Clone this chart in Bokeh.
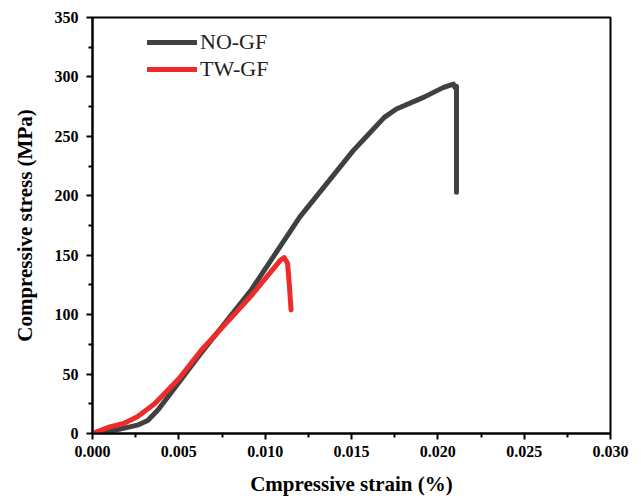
from bokeh.plotting import figure
from bokeh.models import Range1d, FixedTicker, PrintfTickFormatter, Legend, LegendItem
from bokeh.embed import file_html
from bokeh.resources import INLINE

# Data
no_gf_strain = [0.0003, 0.0014, 0.0026, 0.0032, 0.0038, 0.0050, 0.0062, 0.0092, 0.0120,
                0.0151, 0.0160, 0.0169, 0.0176, 0.0192, 0.0203, 0.0209, 0.0210, 0.02108, 0.02108]
no_gf_stress = [0, 3, 7, 11, 20, 43, 66, 121, 182,
                238, 252, 266, 273, 283, 291, 294, 291, 292, 203]

tw_gf_strain = [0.0, 0.0010, 0.0018, 0.0026, 0.0036, 0.0050, 0.0063, 0.0082, 0.0092,
                0.0101, 0.0109, 0.0111, 0.0113, 0.0114, 0.0115]
tw_gf_stress = [0, 5.6, 8.4, 14, 25, 46, 70, 100, 116,
                132, 146, 148, 143, 125, 104]

x_ticks = [0.000, 0.005, 0.010, 0.015, 0.020, 0.025, 0.030]
y_ticks = [0, 50, 100, 150, 200, 250, 300, 350]

series_names = ["NO-GF", "TW-GF"]
series_colors = ["#404040", "#ee2a2a"]

FONT = "Liberation Serif"

p = figure(width=641, height=496, output_backend="svg", toolbar_location=None,
           x_range=Range1d(0, 0.030), y_range=Range1d(0, 350),
           min_border_left=92, min_border_right=31, min_border_top=17, min_border_bottom=63)
p.frame_width = 518
p.frame_height = 416

r1 = p.line(no_gf_strain, no_gf_stress, line_color=series_colors[0], line_width=5,
            line_join="round", line_cap="round")
r2 = p.line(tw_gf_strain, tw_gf_stress, line_color=series_colors[1], line_width=5,
            line_join="round", line_cap="round")

p.grid.visible = False
p.outline_line_color = "black"
p.outline_line_width = 2
p.outline_line_alpha = 1

for ax in (p.xaxis[0], p.yaxis[0]):
    ax.axis_line_width = 2
    ax.axis_line_color = "black"
    ax.major_tick_line_width = 2
    ax.minor_tick_line_width = 2
    ax.major_tick_in = 0
    ax.major_tick_out = 6
    ax.minor_tick_in = 0
    ax.minor_tick_out = 4
    ax.major_label_text_font = FONT
    ax.major_label_text_font_style = "bold"
    ax.major_label_text_font_size = "16px"
    ax.major_label_text_color = "black"
    ax.axis_label_text_font = FONT
    ax.axis_label_text_font_style = "bold"
    ax.axis_label_text_font_size = "21px"
    ax.axis_label_text_color = "black"

p.xaxis.ticker = FixedTicker(ticks=x_ticks, minor_ticks=[0.0025 + 0.005 * i for i in range(6)])
p.xaxis.formatter = PrintfTickFormatter(format="%.3f")
p.yaxis.ticker = FixedTicker(ticks=y_ticks, minor_ticks=[25 + 50 * i for i in range(7)])

p.xaxis.axis_label = "Cmpressive strain (%)"
p.yaxis.axis_label = "Compressive stress (MPa)"
p.xaxis.major_label_standoff = 6
p.xaxis.axis_label_standoff = 12
p.yaxis.major_label_standoff = 8
p.yaxis.axis_label_standoff = 15

legend = Legend(items=[LegendItem(label=series_names[0], renderers=[r1]),
                       LegendItem(label=series_names[1], renderers=[r2])],
                location=(55, 351), orientation="vertical",
                glyph_width=50, glyph_height=22, label_height=22, spacing=1,
                padding=0, margin=0, label_standoff=3,
                label_text_font=FONT, label_text_font_size="22px", label_text_color="#222222",
                border_line_color=None, background_fill_alpha=0)
p.add_layout(legend, "center")

open("out.html", "w").write(file_html(p, INLINE))
